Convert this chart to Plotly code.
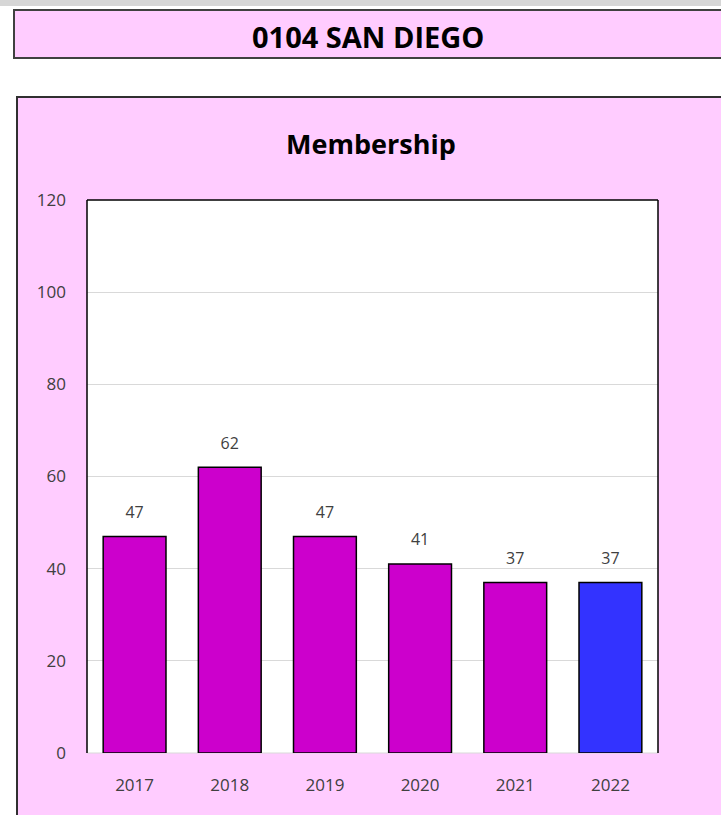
import plotly.graph_objects as go

# data
years = ["2017", "2018", "2019", "2020", "2021", "2022"]
members = [47, 62, 47, 41, 37, 37]
bar_colors = ["#CC00CC", "#CC00CC", "#CC00CC", "#CC00CC", "#CC00CC", "#3333FF"]
y_ticks = [0, 20, 40, 60, 80, 100, 120]

W, H = 721, 815
PINK = "#FFCCFF"
FONT = "Open Sans"


def px(x):
    return x / W


def py(y):
    return 1 - y / H


fig = go.Figure()
fig.add_trace(go.Bar(
    x=years,
    y=members,
    marker=dict(color=bar_colors, line=dict(color="black", width=1.5)),
    hoverinfo="x+y",
))
# value labels above the bars (invisible markers push the text up)
fig.add_trace(go.Scatter(
    x=years,
    y=members,
    mode="markers+text",
    text=[str(v) for v in members],
    textposition="top center",
    marker=dict(size=22, opacity=0),
    textfont=dict(family=FONT, size=16, color="#404040"),
    hoverinfo="skip",
))

shapes = [
    # grey strip at the very top
    dict(type="rect", xref="paper", yref="paper", x0=0, x1=1, y0=py(6), y1=py(0),
         fillcolor="#D6D6D6", line=dict(width=0), layer="above"),
    # station title box
    dict(type="rect", xref="paper", yref="paper", x0=px(14), x1=px(730), y0=py(58), y1=py(10),
         fillcolor=PINK, line=dict(color="#404040", width=2), layer="below"),
    # chart box
    dict(type="rect", xref="paper", yref="paper", x0=px(17), x1=px(730), y0=py(830), y1=py(97),
         fillcolor=PINK, line=dict(color="#303030", width=2), layer="below"),
    # plot area
    dict(type="rect", xref="paper", yref="paper", x0=px(87), x1=px(658), y0=py(753), y1=py(200),
         fillcolor="white", line=dict(width=0), layer="below"),
    # plot area border (left, top, right)
    dict(type="line", xref="paper", yref="paper", x0=px(87), x1=px(87), y0=py(753), y1=py(200),
         line=dict(color="black", width=1.5)),
    dict(type="line", xref="paper", yref="paper", x0=px(87), x1=px(658), y0=py(200), y1=py(200),
         line=dict(color="black", width=1.5)),
    dict(type="line", xref="paper", yref="paper", x0=px(658), x1=px(658), y0=py(753), y1=py(200),
         line=dict(color="black", width=1.5)),
    dict(type="line", xref="paper", yref="paper", x0=px(87), x1=px(658), y0=py(753), y1=py(753),
         line=dict(color="#D9D9D9", width=1), layer="below"),
]

annotations = [
    dict(text="<b>0104 SAN DIEGO</b>", xref="paper", yref="paper", x=px(368), y=py(37),
         xanchor="center", yanchor="middle", showarrow=False,
         font=dict(family=FONT, size=29, color="black")),
    dict(text="<b>Membership</b>", xref="paper", yref="paper", x=px(371), y=py(143),
         xanchor="center", yanchor="middle", showarrow=False,
         font=dict(family=FONT, size=27, color="black")),
]

fig.update_layout(
    width=W, height=H,
    margin=dict(l=0, r=0, t=0, b=0, autoexpand=False),
    paper_bgcolor="white",
    plot_bgcolor="rgba(0,0,0,0)",
    showlegend=False,
    bargap=0.34,
    shapes=shapes,
    annotations=annotations,
    font=dict(family=FONT, size=17, color="#404040"),
    xaxis=dict(type="category", domain=[px(87), px(658)], range=[-0.5, 5.5], automargin=False,
               showgrid=False, showline=False, zeroline=False,
               ticks="", ticklabelstandoff=20, tickfont=dict(size=17, color="#404040")),
    yaxis=dict(domain=[py(753), py(200)], range=[0, 120], tickvals=y_ticks, automargin=False,
               showgrid=True, gridcolor="#D9D9D9", gridwidth=1, zeroline=False,
               showline=False, ticks="", ticklabelstandoff=20,
               tickfont=dict(size=17, color="#404040")),
)

fig.write_html("out.html", config={"displayModeBar": False},
               post_script="document.body.style.margin = '0';")
